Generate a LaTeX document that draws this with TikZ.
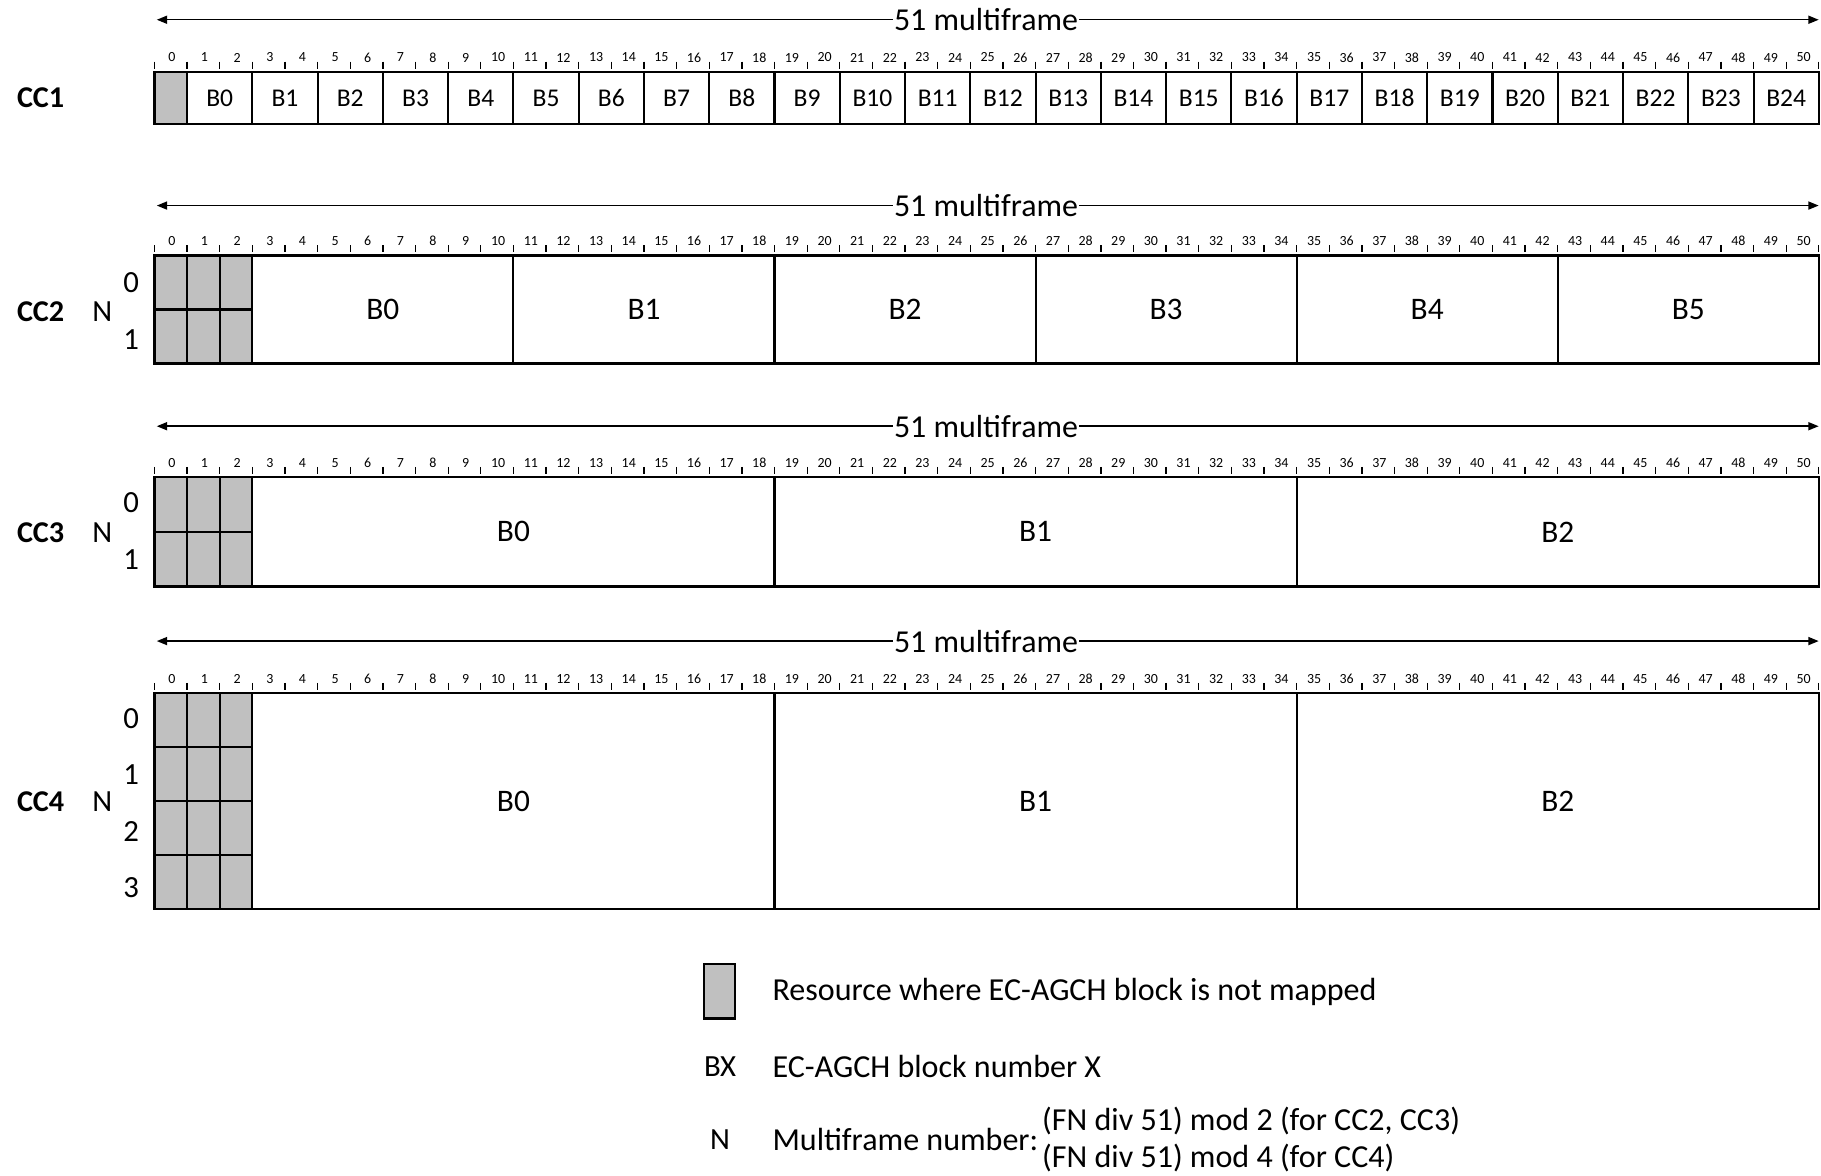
\documentclass[tikz,border=0pt]{standalone}
\usepackage{fontspec}
\setmainfont{Carlito}
\usetikzlibrary{arrows.meta}
\definecolor{cellgrey}{RGB}{192,192,192}
\newcommand\mfruler[2]{%
  \foreach \i in {0,...,51}{\draw[tickmark] (133+\i*28.1,#2-9) -- (133+\i*28.1,#2-3);}
  \foreach \i in {0,...,50}{\node[num] (t#1-\i) at (133+\i*28.1+15,#2-12.5) {\i};}
}
\newcommand\mfspan[2]{%
  \node[spanlab] (m#1) at (849,#2) {51 multiframe};
  \coordinate (ml#1) at (135,#2);
  \coordinate (mr#1) at (1566,#2);
  \draw[spanarrow] (m#1) -- (ml#1);
  \draw[spanarrow] (m#1) -- (mr#1);
}
\begin{document}
\begin{tikzpicture}[x=1pt,y=-1pt,
  box/.style={draw=black,line width=1.8pt,inner sep=0pt,outer sep=0pt},
  greybox/.style={box,fill=cellgrey},
  tickmark/.style={line width=1.1pt},
  num/.style={font=\fontsize{12}{12}\selectfont,inner sep=0pt},
  spanlab/.style={font=\fontsize{27.5}{27.5}\selectfont,fill=white,inner sep=1pt},
  spanarrow/.style={line width=1.3pt,-{Triangle[length=9pt,width=7pt]}},
  cclab/.style={font=\bfseries\fontsize{26}{26}\selectfont},
  nlab/.style={font=\fontsize{26.5}{26.5}\selectfont},
  blabA/.style={font=\fontsize{22}{22}\selectfont},
  blabB/.style={font=\fontsize{27}{27}\selectfont},
  leg/.style={font=\fontsize{27.6}{27.6}\selectfont,anchor=west,inner sep=0pt},
]
\useasboundingbox (0,0) rectangle (1568,1012);

% ---------------- CC1
\mfspan{1}{17}
\mfruler{1}{62}
\node[greybox,minimum width=28.1pt,minimum height=45pt] (c1g) at (147.05,84.5) {};
\foreach \k in {0,...,24}{\node[box,blabA,minimum width=56.2pt,minimum height=45pt] (c1b\k) at (189.2+\k*56.2,84.5) {B\k};}
\node[cclab] (cc1) at (35,84) {CC1};

% ---------------- CC2
\mfspan{2}{177}
\mfruler{2}{220}
\foreach \c/\cx in {0/147.05,1/175.15,2/203.25}{
  \foreach \r/\ry in {0/243.25,1/289.75}{
    \node[greybox,minimum width=28.1pt,minimum height=46.5pt] (c2g\c\r) at (\cx,\ry) {};}}
\foreach \k in {0,...,5}{\node[box,blabB,minimum width=224.8pt,minimum height=93pt] (c2b\k) at (329.7+\k*224.8,266.5) {B\k};}
\node[cclab] (cc2) at (35,268) {CC2};
\node[nlab] (n2) at (88,268) {N};
\node[nlab] (n2r0) at (113,243) {0};
\node[nlab] (n2r1) at (113,292) {1};

% ---------------- CC3
\mfspan{3}{367}
\mfruler{3}{411}
\foreach \c/\cx in {0/147.05,1/175.15,2/203.25}{
  \foreach \r/\ry in {0/434.5,1/481.5}{
    \node[greybox,minimum width=28.1pt,minimum height=47pt] (c3g\c\r) at (\cx,\ry) {};}}
\foreach \k in {0,...,2}{\node[box,blabB,minimum width=449.6pt,minimum height=94pt] (c3b\k) at (442.1+\k*449.6,458) {B\k};}
\node[cclab] (cc3) at (35,459) {CC3};
\node[nlab] (n3) at (88,459) {N};
\node[nlab] (n3r0) at (113,433) {0};
\node[nlab] (n3r1) at (113,482) {1};

% ---------------- CC4
\mfspan{4}{552}
\mfruler{4}{597}
\foreach \c/\cx in {0/147.05,1/175.15,2/203.25}{
  \foreach \r/\ry in {0/620.25,1/666.75,2/713.25,3/759.75}{
    \node[greybox,minimum width=28.1pt,minimum height=46.5pt] (c4g\c\r) at (\cx,\ry) {};}}
\foreach \k in {0,...,2}{\node[box,blabB,minimum width=449.6pt,minimum height=186pt] (c4b\k) at (442.1+\k*449.6,690) {B\k};}
\node[cclab] (cc4) at (35,690) {CC4};
\node[nlab] (n4) at (88,690) {N};
\node[nlab] (n4r0) at (113,619) {0};
\node[nlab] (n4r1) at (113,667) {1};
\node[nlab] (n4r2) at (113,716) {2};
\node[nlab] (n4r3) at (113,764) {3};

% ---------------- legend
\node[greybox,minimum width=27pt,minimum height=47pt] (lg) at (619.5,853.5) {};
\node[leg] (lgt) at (665,854) {Resource where EC-AGCH block is not mapped};
\node[nlab] (lbx) at (620,918) {BX};
\node[leg] (lbxt) at (665,918) {EC-AGCH block number X};
\node[nlab] (ln) at (620,981) {N};
\node[leg] (lnt) at (665,981) {Multiframe number:};
\node[leg] (lnt1) at ([xshift=3pt]lnt.east |- 0,965) {(FN div 51) mod 2 (for CC2, CC3)};
\node[leg] (lnt2) at ([xshift=3pt]lnt.east |- 0,997) {(FN div 51) mod 4 (for CC4)};
\end{tikzpicture}
\end{document}
